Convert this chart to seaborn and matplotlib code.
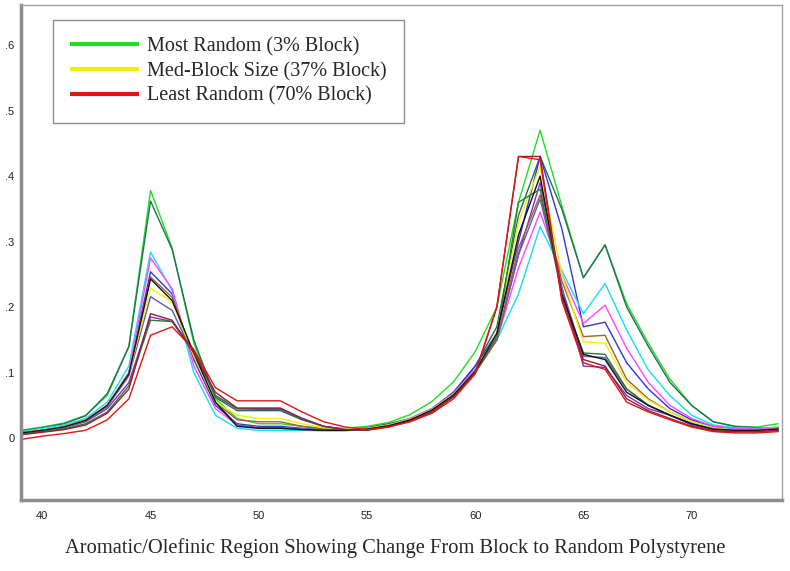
import matplotlib
matplotlib.use('Agg')
import matplotlib.pyplot as plt
import seaborn as sns
import pandas as pd
from matplotlib.lines import Line2D

# chemical shift positions (x axis)
shift = list(range(39, 75))

# one trace per sample
green = [.012, .017, .023, .035, .065, .14, .378, .29, .145, .06, .03, .022, .022, .018, .015, .015, .018, .024,
         .036, .056, .086, .132, .2, .36, .47, .355, .245, .295, .205, .145, .09, .05, .025, .018, .017, .022]
teal = [.011, .016, .022, .034, .068, .14, .362, .288, .15, .062, .042, .042, .042, .028, .018, .014, .016, .022,
        .03, .045, .07, .11, .17, .34, .43, .35, .245, .295, .2, .14, .085, .05, .025, .018, .016, .015]
blue = [.008, .012, .018, .028, .05, .1, .254, .22, .12, .05, .022, .018, .018, .015, .013, .012, .014, .02,
        .03, .045, .07, .11, .16, .3, .43, .32, .17, .177, .115, .075, .045, .028, .018, .015, .014, .016]
cyan = [.01, .015, .02, .03, .055, .11, .284, .225, .1, .035, .015, .012, .012, .012, .011, .011, .014, .02,
        .03, .045, .068, .105, .15, .22, .323, .256, .19, .236, .165, .104, .065, .035, .02, .016, .015, .017]
magenta = [.008, .012, .017, .027, .05, .1, .275, .228, .11, .045, .02, .016, .016, .014, .012, .012, .014, .02,
           .03, .045, .068, .105, .15, .26, .345, .25, .175, .203, .137, .085, .05, .03, .018, .015, .014, .015]
purple = [.007, .011, .016, .025, .045, .085, .185, .178, .13, .065, .045, .044, .044, .03, .018, .013, .013, .018,
          .027, .04, .064, .1, .15, .28, .39, .23, .11, .108, .065, .045, .035, .02, .012, .01, .01, .012]
slate = [.007, .011, .016, .026, .048, .095, .216, .195, .125, .055, .02, .016, .016, .014, .012, .012, .014, .019,
         .028, .042, .066, .102, .15, .28, .365, .23, .125, .123, .075, .05, .035, .022, .014, .012, .012, .014]
brown = [.008, .012, .017, .027, .05, .098, .246, .215, .125, .055, .028, .025, .025, .018, .014, .013, .014, .019,
         .028, .043, .066, .1, .15, .29, .371, .24, .155, .157, .09, .06, .04, .025, .015, .012, .012, .014]
yellow = [.008, .012, .017, .027, .05, .098, .229, .208, .125, .055, .035, .03, .03, .022, .016, .014, .015, .02,
          .029, .044, .067, .102, .16, .33, .415, .25, .147, .145, .085, .058, .04, .025, .015, .012, .012, .014]
dkgreen = [.006, .01, .014, .022, .04, .08, .18, .178, .135, .065, .045, .045, .045, .03, .018, .013, .013, .018,
           .027, .04, .064, .1, .155, .36, .38, .22, .13, .128, .075, .05, .035, .022, .013, .011, .011, .013]
black = [.008, .012, .017, .027, .05, .098, .243, .21, .13, .055, .018, .015, .015, .013, .012, .012, .014, .019,
         .028, .043, .066, .102, .16, .31, .4, .22, .128, .12, .07, .05, .035, .022, .014, .012, .012, .014]
maroon = [.005, .009, .013, .02, .038, .075, .19, .18, .13, .07, .046, .046, .046, .03, .018, .013, .012, .017,
          .026, .04, .063, .1, .2, .43, .43, .215, .12, .11, .06, .042, .03, .018, .011, .01, .01, .012]
red = [-.002, .003, .007, .012, .028, .06, .157, .17, .135, .077, .057, .057, .057, .04, .025, .017, .013, .017,
       .025, .038, .06, .098, .2, .43, .425, .21, .115, .105, .055, .04, .028, .017, .01, .008, .008, .01]

series = {
    'green': (green, '#22dd22'),
    'teal': (teal, '#1f6f5a'),
    'blue': (blue, '#3535d0'),
    'cyan': (cyan, '#10e0f0'),
    'magenta': (magenta, '#ff45ff'),
    'purple': (purple, '#8a2bc0'),
    'slate': (slate, '#5a5ab8'),
    'brown': (brown, '#a0603c'),
    'yellow': (yellow, '#f2ee10'),
    'dkgreen': (dkgreen, '#2e7a2e'),
    'black': (black, '#111111'),
    'maroon': (maroon, '#902040'),
    'red': (red, '#e01515'),
}

rows = []
for name, (vals, col) in series.items():
    for x, v in zip(shift, vals):
        rows.append({'shift': x, 'value': v, 'sample': name})
df = pd.DataFrame(rows)
palette = {k: c for k, (v, c) in series.items()}

legend_labels = ['Most Random (3% Block)', 'Med-Block Size (37% Block)', 'Least Random (70% Block)']
legend_colors = ['#22dd22', '#f2ee10', '#e01515']

sns.set_style('white')

fig = plt.figure(figsize=(7.9, 5.71), dpi=100)
ax = fig.add_axes([0.027, 0.124, 0.963, 0.867])

sns.lineplot(data=df, x='shift', y='value', hue='sample', palette=palette,
             linewidth=1.0, legend=False, ax=ax)

ax.set_xlim(39.03, 74.18)
ax.set_ylim(-0.0947, 0.661)
ax.set_xticks([40, 45, 50, 55, 60, 65, 70])
ax.set_yticks([0, .1, .2, .3, .4, .5, .6])
ax.set_yticklabels(['0', '.1', '.2', '.3', '.4', '.5', '.6'])
ax.tick_params(axis='both', labelsize=8, length=3, width=0.8, color='#808080')
ax.tick_params(axis='x', pad=5)
ax.tick_params(axis='y', pad=2)
for lab in ax.get_xticklabels() + ax.get_yticklabels():
    lab.set_family('Liberation Sans')
    lab.set_color('#222222')
ax.set_xlabel('')
ax.set_ylabel('')

for side in ['left', 'bottom']:
    ax.spines[side].set_color('#8c8c8c')
    ax.spines[side].set_linewidth(2.5)
for side in ['top', 'right']:
    ax.spines[side].set_color('#a0a0a0')
    ax.spines[side].set_linewidth(1.0)

handles = [Line2D([0], [0], color=c, linewidth=3, solid_capstyle='butt') for c in legend_colors]
leg = ax.legend(handles, legend_labels, loc='upper left', bbox_to_anchor=(0.042, 0.97),
                prop={'family': 'Liberation Serif', 'size': 14.5}, frameon=True, fancybox=False,
                handlelength=3.4, handletextpad=0.4, labelspacing=0.27, borderpad=0.85,
                borderaxespad=0)
leg.get_frame().set_edgecolor('#707070')
leg.get_frame().set_linewidth(1.0)

fig.text(0.5, 0.04, 'Aromatic/Olefinic Region Showing Change From Block to Random Polystyrene',
         ha='center', va='center', family='Liberation Serif', fontsize=14.8)

fig.savefig('out.png', dpi=100)
